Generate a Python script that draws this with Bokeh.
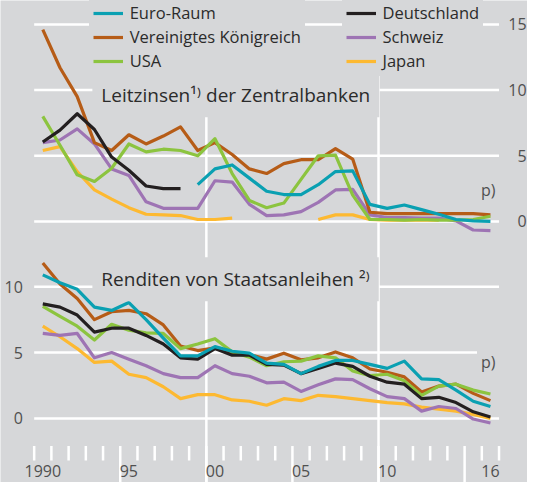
import math
from bokeh.plotting import figure
from bokeh.models import Range1d, Legend, LegendItem, Label
from bokeh.core.properties import value
from bokeh.embed import file_html
from bokeh.resources import INLINE

nan = float("nan")
years = list(range(1990, 2017))

# Leitzinsen der Zentralbanken (oberes Panel, rechte Skala)
lz_euro = [nan] * 9 + [2.8, 4.0, 4.3, 3.3, 2.3, 2.05, 2.05, 2.8, 3.8, 3.85, 1.3, 1.0, 1.25, 0.9, 0.55, 0.15, 0.05, 0.0]
lz_uk = [14.6, 11.7, 9.5, 6.0, 5.4, 6.6, 5.9, 6.5, 7.2, 5.4, 6.0, 5.1, 4.0, 3.65, 4.4, 4.7, 4.7, 5.55, 4.75, 0.7, 0.6, 0.6, 0.6, 0.6, 0.6, 0.6, 0.5]
lz_usa = [8.0, 5.8, 3.55, 3.05, 4.05, 5.9, 5.3, 5.5, 5.4, 5.0, 6.3, 3.65, 1.6, 1.05, 1.4, 3.2, 5.0, 5.05, 2.0, 0.15, 0.15, 0.1, 0.15, 0.1, 0.1, 0.15, 0.4]
lz_de = [6.05, 6.95, 8.2, 7.0, 4.9, 3.9, 2.7, 2.5, 2.5] + [nan] * 18
lz_ch = [6.0, 6.2, 7.05, 5.9, 4.0, 3.5, 1.5, 1.0, 1.0, 1.0, 3.1, 3.0, 1.3, 0.45, 0.5, 0.75, 1.45, 2.4, 2.45, 0.5, 0.3, 0.3, 0.25, 0.25, 0.05, -0.65, -0.7]
lz_jp = [5.4, 5.7, 3.8, 2.4, 1.7, 1.05, 0.55, 0.5, 0.45, 0.15, 0.15, 0.25, nan, nan, nan, nan, 0.15, 0.5, 0.5, 0.15, 0.1, 0.1, 0.1, 0.1, nan, nan, nan]

# Renditen von Staatsanleihen (unteres Panel, linke Skala)
sa_euro = [10.9, 10.3, 9.8, 8.45, 8.2, 8.8, 7.5, 6.1, 4.75, 4.75, 5.45, 5.1, 4.95, 4.2, 4.1, 3.4, 3.95, 4.4, 4.4, 4.1, 3.8, 4.35, 3.0, 2.95, 2.15, 1.3, 0.9]
sa_uk = [11.8, 10.2, 9.1, 7.5, 8.1, 8.2, 7.95, 7.1, 5.5, 5.15, 5.35, 4.95, 4.85, 4.5, 4.95, 4.45, 4.6, 5.05, 4.6, 3.75, 3.5, 3.15, 2.0, 2.45, 2.6, 1.9, 1.35]
sa_usa = [8.5, 7.75, 7.0, 5.95, 7.15, 6.7, 6.5, 6.45, 5.3, 5.65, 6.05, 5.05, 4.65, 4.0, 4.3, 4.35, 4.75, 4.6, 3.6, 3.25, 3.35, 2.85, 1.75, 2.45, 2.6, 2.15, 1.85]
sa_de = [8.7, 8.45, 7.85, 6.55, 6.85, 6.85, 6.3, 5.65, 4.6, 4.5, 5.3, 4.8, 4.8, 4.1, 4.05, 3.4, 3.8, 4.2, 3.95, 3.2, 2.75, 2.6, 1.5, 1.6, 1.2, 0.5, 0.1]
sa_ch = [6.45, 6.3, 6.45, 4.6, 5.0, 4.5, 4.0, 3.4, 3.1, 3.1, 4.0, 3.4, 3.2, 2.7, 2.75, 2.05, 2.55, 3.0, 2.95, 2.25, 1.65, 1.5, 0.55, 0.9, 0.75, -0.05, -0.35]
sa_jp = [7.0, 6.2, 5.3, 4.25, 4.35, 3.35, 3.1, 2.4, 1.5, 1.8, 1.8, 1.4, 1.3, 1.0, 1.5, 1.35, 1.75, 1.65, 1.5, 1.35, 1.2, 1.1, 0.85, 0.7, 0.55, 0.3, 0.0]

series_names = ["Euro-Raum", "Vereinigtes Königreich", "USA", "Deutschland", "Schweiz", "Japan"]
colors = ["#0aa0b2", "#b65c17", "#8cc43f", "#231f20", "#9e74b4", "#fdb931"]

top_ticks = [0, 5, 10, 15]
bottom_ticks = [0, 5, 10]
grid_years = [2000, 2010]
tick_years = list(range(1990, 2018))
long_tick_years = [1995, 2000, 2005, 2010, 2015]
label_years = [1990, 1995, 2000, 2005, 2010, 2016]
label_texts = ["1990", "95", "00", "05", "10", "16"]

BG = "#d6d7d9"
FONT = "Open Sans"
TXT = "#2b2b2b"
AX = "#505050"

p = figure(width=527, height=482, output_backend="svg", toolbar_location=None,
           x_range=Range1d(1988.044, 2018.653), y_range=Range1d(-4.87, 31.74),
           x_axis_type=None, y_axis_type=None, min_border=0,
           background_fill_color=BG, border_fill_color=BG, outline_line_color=None)
p.extra_y_ranges = {"top": Range1d(-19.87, 16.82)}
p.xgrid.visible = False
p.ygrid.visible = False

# white gridlines
x0 = tick_years[0]
x1 = tick_years[-1]
p.segment(x0=[x0] * len(top_ticks), x1=[x1] * len(top_ticks), y0=top_ticks, y1=top_ticks,
          y_range_name="top", line_color="white", line_width=2.5)
p.segment(x0=[x0] * len(bottom_ticks), x1=[x1] * len(bottom_ticks), y0=bottom_ticks, y1=bottom_ticks,
          line_color="white", line_width=2.5)
p.segment(x0=grid_years, x1=grid_years, y0=[27.3] * len(grid_years), y1=[-5.0] * len(grid_years),
          line_color="white", line_width=2.5)

# year ticks
p.segment(x0=tick_years, x1=tick_years, y0=[-2.1] * len(tick_years),
          y1=[-5.0 if y in long_tick_years else -3.2 for y in tick_years],
          line_color="white", line_width=2.5)
p.text(x=[y + 0.5 for y in label_years], y=[-4.0] * len(label_years), text=label_texts,
       text_align="center", text_baseline="alphabetic", text_font=value(FONT),
       text_font_size="16px", text_color=AX)

# y labels
p.text(x=[1989.34] * len(bottom_ticks), y=bottom_ticks, text=[str(t) for t in bottom_ticks],
       text_align="right", text_baseline="middle", text_font=value(FONT),
       text_font_size="16px", text_color=AX)
p.text(x=[2018.6] * len(top_ticks), y=top_ticks, text=[str(t) for t in top_ticks], y_range_name="top",
       text_align="right", text_baseline="middle", text_font=value(FONT),
       text_font_size="16px", text_color=AX)

xs = [y + 0.5 for y in years]
top_data = [lz_euro, lz_uk, lz_usa, lz_de, lz_ch, lz_jp]
bot_data = [sa_euro, sa_uk, sa_usa, sa_de, sa_ch, sa_jp]
draw_order = [5, 4, 1, 2, 3, 0]
top_r = {}
for i in draw_order:
    top_r[i] = p.line(xs, top_data[i], y_range_name="top", line_color=colors[i], line_width=3.2,
                      line_join="round")
for i in draw_order:
    p.line(xs, bot_data[i], line_color=colors[i], line_width=3.2, line_join="round")

# "p)" markers
p.text(x=[2015.95], y=[2.38], text=["p)"], y_range_name="top", text_align="left",
       text_baseline="middle", text_font=value(FONT), text_font_size="16px", text_color=AX)
p.add_layout(Label(x=2015.72, y=4.3, text="p)", text_align="left", text_baseline="middle",
                   text_font=FONT, text_font_size="16px", text_color=AX,
                   background_fill_color=BG, padding=4))

# panel titles
p.add_layout(Label(x=1993.38, y=9.6, y_range_name="top", text="Leitzinsen¹⁾ der Zentralbanken",
                   text_align="left", text_baseline="middle", text_font=FONT, text_font_size="19px",
                   text_color=TXT, background_fill_color=BG, padding=9))
p.add_layout(Label(x=1993.38, y=10.57, text="Renditen von Staatsanleihen ²⁾",
                   text_align="left", text_baseline="middle", text_font=FONT, text_font_size="19px",
                   text_color=TXT, background_fill_color=BG, padding=9))

def make_legend(idx, loc):
    leg = Legend(items=[LegendItem(label=series_names[i], renderers=[top_r[i]]) for i in idx],
                 location=loc, orientation="vertical", padding=4, margin=0, spacing=1,
                 glyph_width=30, glyph_height=20, label_height=20, label_standoff=7,
                 label_text_font=FONT, label_text_font_size="16.5px", label_text_color=TXT,
                 background_fill_color=BG, background_fill_alpha=1.0, border_line_alpha=0)
    p.add_layout(leg)

make_legend([0, 1, 2], (88.7, 406))
make_legend([3, 4, 5], (341.5, 406))

open("out.html", "w").write(file_html(p, INLINE))
